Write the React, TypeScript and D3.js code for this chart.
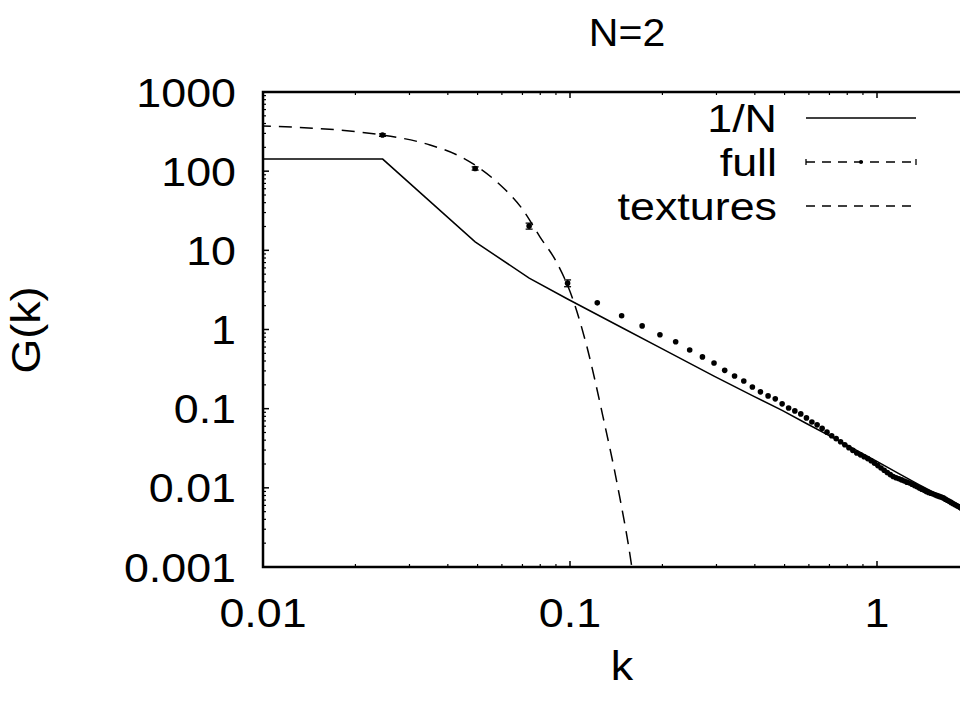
import React from 'react';
import * as d3 from 'd3';

const W = 960;
const H = 702;

const titleText = 'N=2';
const xLabelText = 'k';
const yLabelText = 'G(k)';

const xTickValues = [0.01, 0.1, 1];
const xTickLabels = ['0.01', '0.1', '1'];
const yTickValues = [0.001, 0.01, 0.1, 1, 10, 100, 1000];
const yTickLabels = ['0.001', '0.01', '0.1', '1', '10', '100', '1000'];

const legendNames = ['1/N', 'full', 'textures'];

// large-N (1/N) propagator
const kLargeN = [0.001, 0.02454, 0.04909, 0.07363, 0.09817, 0.1473, 0.1963, 0.2945, 0.3927, 0.4909, 0.589, 0.7854, 1.006, 1.178, 1.374, 1.571, 1.865, 1.89];
const gLargeN = [142, 142, 12.8, 4.45, 2.43, 1.06, 0.589, 0.258, 0.146, 0.095, 0.065, 0.036, 0.0213, 0.0151, 0.0109, 0.0083, 0.0058, 0.0056];

// full simulation, lattice momenta
const kFull = [
  0.0245, 0.0491, 0.0736, 0.0982, 0.1227, 0.1473, 0.1718, 0.1963, 0.2209, 0.2454,
  0.2700, 0.2945, 0.3191, 0.3436, 0.3682, 0.3927, 0.4172, 0.4418, 0.4663, 0.4909,
  0.5154, 0.5400, 0.5645, 0.5890, 0.6136, 0.6381, 0.6627, 0.6872, 0.7118, 0.7363,
  0.7609, 0.7854, 0.8099, 0.8345, 0.8590, 0.8836, 0.9081, 0.9327, 0.9572, 0.9817,
  1.0063, 1.0308, 1.0554, 1.0799, 1.1045, 1.1290, 1.1536, 1.1781, 1.2026, 1.2272,
  1.2517, 1.2763, 1.3008, 1.3254, 1.3499, 1.3744, 1.3990, 1.4235, 1.4481, 1.4726,
  1.4972, 1.5217, 1.5463, 1.5708, 1.5953, 1.6199, 1.6444, 1.6690, 1.6935, 1.7181,
  1.7426, 1.7671, 1.7917, 1.8162, 1.8408, 1.8653, 1.8899,
];
const gFull = [
  286, 108, 20.3, 3.85, 2.17, 1.49, 1.11, 0.86, 0.70, 0.552,
  0.451, 0.378, 0.305, 0.259, 0.224, 0.188, 0.163, 0.145, 0.133, 0.115,
  0.102, 0.0937, 0.0859, 0.0765, 0.068, 0.0625, 0.0565, 0.0505, 0.0455, 0.0418,
  0.0382, 0.0350, 0.0322, 0.0297, 0.0276, 0.0261, 0.0247, 0.0234, 0.0220, 0.0205,
  0.0191, 0.0178, 0.0167, 0.0156, 0.0147, 0.0139, 0.0134, 0.0130, 0.0126, 0.0122,
  0.0118, 0.0115, 0.0111, 0.0107, 0.0103, 0.00995, 0.00962, 0.00930, 0.00898, 0.00875,
  0.00854, 0.00834, 0.00815, 0.00797, 0.0078, 0.00763, 0.00746, 0.0072, 0.00698, 0.00676,
  0.00655, 0.00635, 0.00616, 0.00597, 0.0058, 0.00563, 0.00545,
];
// statistical errors of the first modes
const errFull = [10, 5, 1.8, 0.38];

// texture contribution
const kTex = [0.006, 0.01, 0.0245, 0.035, 0.0448, 0.0578, 0.0703, 0.0798, 0.0907, 0.1023, 0.1136, 0.128, 0.143, 0.159, 0.17];
const gTex = [385, 372, 286, 214, 147, 73, 32.4, 14.8, 6.93, 2.37, 0.60, 0.08, 0.0104, 0.001, 0.00014];

const FONT = "'Liberation Sans', Arial, Helvetica, sans-serif";

const plot = { left: 263, top: 92, bottom: 567, decade: 307 };

function Txt(props: {
  x: number; y: number; anchor?: string; size: number; sx?: number; rotate?: number; children: React.ReactNode;
}) {
  const { x, y, anchor = 'start', size, sx = 1.12, rotate = 0, children } = props;
  return (
    <text
      transform={`translate(${x},${y}) rotate(${rotate}) scale(${sx},1)`}
      textAnchor={anchor}
      fontSize={size}
      fontFamily={FONT}
      fill="#000"
    >
      {children}
    </text>
  );
}

export default function App() {
  const xMin = 0.01;
  const xMax = 2;
  const xRight = plot.left + plot.decade * Math.log10(xMax / xMin);
  const x = d3.scaleLog().domain([xMin, xMax]).range([plot.left, xRight]);
  const y = d3.scaleLog().domain([0.001, 1000]).range([plot.bottom, plot.top]);

  const line = d3
    .line<[number, number]>()
    .x((d) => x(d[0]))
    .y((d) => y(d[1]));
  const smooth = d3
    .line<[number, number]>()
    .x((d) => x(d[0]))
    .y((d) => y(d[1]))
    .curve(d3.curveMonotoneX);

  const largeNPath = line(kLargeN.map((k, i) => [k, gLargeN[i]]));
  const texPath = smooth(kTex.map((k, i) => [k, gTex[i]]));

  // minor tick positions for log axes
  const xMinor: number[] = [];
  for (let e = -2; e <= 0; e++) for (let m = 2; m <= 9; m++) {
    const v = m * Math.pow(10, e);
    if (v <= xMax) xMinor.push(v);
  }
  const yMinor: number[] = [];
  for (let e = -3; e <= 2; e++) for (let m = 2; m <= 9; m++) yMinor.push(m * Math.pow(10, e));

  const majorLen = 6;
  const minorLen = 3;

  const legendRows = [118, 162, 206];
  const legendTextX = 777;
  const legendLine = [806, 916];

  return (
    <svg
      width={W}
      height={H}
      style={{ position: 'absolute', left: 0, top: 0, background: '#fff' }}
    >
      <rect x={0} y={0} width={W} height={H} fill="#fff" />
      <defs>
        <clipPath id="plotClip">
          <rect x={plot.left} y={plot.top} width={xRight - plot.left} height={plot.bottom - plot.top} />
        </clipPath>
      </defs>

      {/* title */}
      <Txt x={627} y={46} anchor="middle" size={38} sx={1.08}>{titleText}</Txt>

      {/* y ticks and labels */}
      {yTickValues.map((v, i) => (
        <g key={'yt' + i}>
          <line x1={plot.left} x2={plot.left + majorLen} y1={y(v)} y2={y(v)} stroke="#000" strokeWidth={1.5} />
          <line x1={xRight} x2={xRight - majorLen} y1={y(v)} y2={y(v)} stroke="#000" strokeWidth={1.5} />
          <Txt x={236} y={y(v) + 14.5} anchor="end" size={40}>{yTickLabels[i]}</Txt>
        </g>
      ))}
      {yMinor.map((v, i) => (
        <g key={'ym' + i}>
          <line x1={plot.left} x2={plot.left + minorLen} y1={y(v)} y2={y(v)} stroke="#000" strokeWidth={1.2} />
          <line x1={xRight} x2={xRight - minorLen} y1={y(v)} y2={y(v)} stroke="#000" strokeWidth={1.2} />
        </g>
      ))}

      {/* x ticks and labels */}
      {xTickValues.map((v, i) => (
        <g key={'xt' + i}>
          <line x1={x(v)} x2={x(v)} y1={plot.bottom} y2={plot.bottom - majorLen} stroke="#000" strokeWidth={1.5} />
          <line x1={x(v)} x2={x(v)} y1={plot.top} y2={plot.top + majorLen} stroke="#000" strokeWidth={1.5} />
          <Txt x={x(v)} y={627} anchor="middle" size={40}>{xTickLabels[i]}</Txt>
        </g>
      ))}
      {xMinor.map((v, i) => (
        <g key={'xm' + i}>
          <line x1={x(v)} x2={x(v)} y1={plot.bottom} y2={plot.bottom - minorLen} stroke="#000" strokeWidth={1.2} />
          <line x1={x(v)} x2={x(v)} y1={plot.top} y2={plot.top + minorLen} stroke="#000" strokeWidth={1.2} />
        </g>
      ))}

      {/* axis titles */}
      <Txt x={622} y={680} anchor="middle" size={40}>{xLabelText}</Txt>
      <Txt x={40} y={330} anchor="middle" size={40} rotate={-90}>{yLabelText}</Txt>

      {/* data */}
      <g clipPath="url(#plotClip)">
        <path d={largeNPath || ''} fill="none" stroke="#000" strokeWidth={1.5} />
        <path d={texPath || ''} fill="none" stroke="#000" strokeWidth={1.5} strokeDasharray="13 8" />
        {kFull.map((k, i) => {
          const cx = x(k);
          const cy = y(gFull[i]);
          const e = errFull[i];
          return (
            <g key={'f' + i}>
              {e ? (
                <g stroke="#000" strokeWidth={1.3}>
                  <line x1={cx} x2={cx} y1={y(gFull[i] + e)} y2={y(gFull[i] - e)} />
                  <line x1={cx - 3.5} x2={cx + 3.5} y1={y(gFull[i] + e)} y2={y(gFull[i] + e)} />
                  <line x1={cx - 3.5} x2={cx + 3.5} y1={y(gFull[i] - e)} y2={y(gFull[i] - e)} />
                </g>
              ) : null}
              <circle cx={cx} cy={cy} r={2.8} fill="#000" />
            </g>
          );
        })}
      </g>

      {/* frame */}
      <rect
        x={plot.left}
        y={plot.top}
        width={xRight - plot.left}
        height={plot.bottom - plot.top}
        fill="none"
        stroke="#000"
        strokeWidth={2.5}
      />

      {/* legend */}
      {legendNames.map((name, i) => (
        <Txt key={'lt' + i} x={legendTextX} y={legendRows[i] + 14} anchor="end" size={39} sx={1.15}>{name}</Txt>
      ))}
      <line x1={legendLine[0]} x2={legendLine[1]} y1={legendRows[0]} y2={legendRows[0]} stroke="#000" strokeWidth={1.5} />
      <g stroke="#000" strokeWidth={1.3}>
        <line x1={legendLine[0]} x2={legendLine[1]} y1={legendRows[1]} y2={legendRows[1]} strokeDasharray="9 7" />
        <line x1={legendLine[0]} x2={legendLine[0]} y1={legendRows[1] - 3} y2={legendRows[1] + 3} />
        <line x1={legendLine[1]} x2={legendLine[1]} y1={legendRows[1] - 3} y2={legendRows[1] + 3} />
      </g>
      <circle cx={(legendLine[0] + legendLine[1]) / 2} cy={legendRows[1]} r={2} fill="#000" />
      <line x1={legendLine[0]} x2={legendLine[1]} y1={legendRows[2]} y2={legendRows[2]} stroke="#000" strokeWidth={1.3} strokeDasharray="9 7" />
    </svg>
  );
}
